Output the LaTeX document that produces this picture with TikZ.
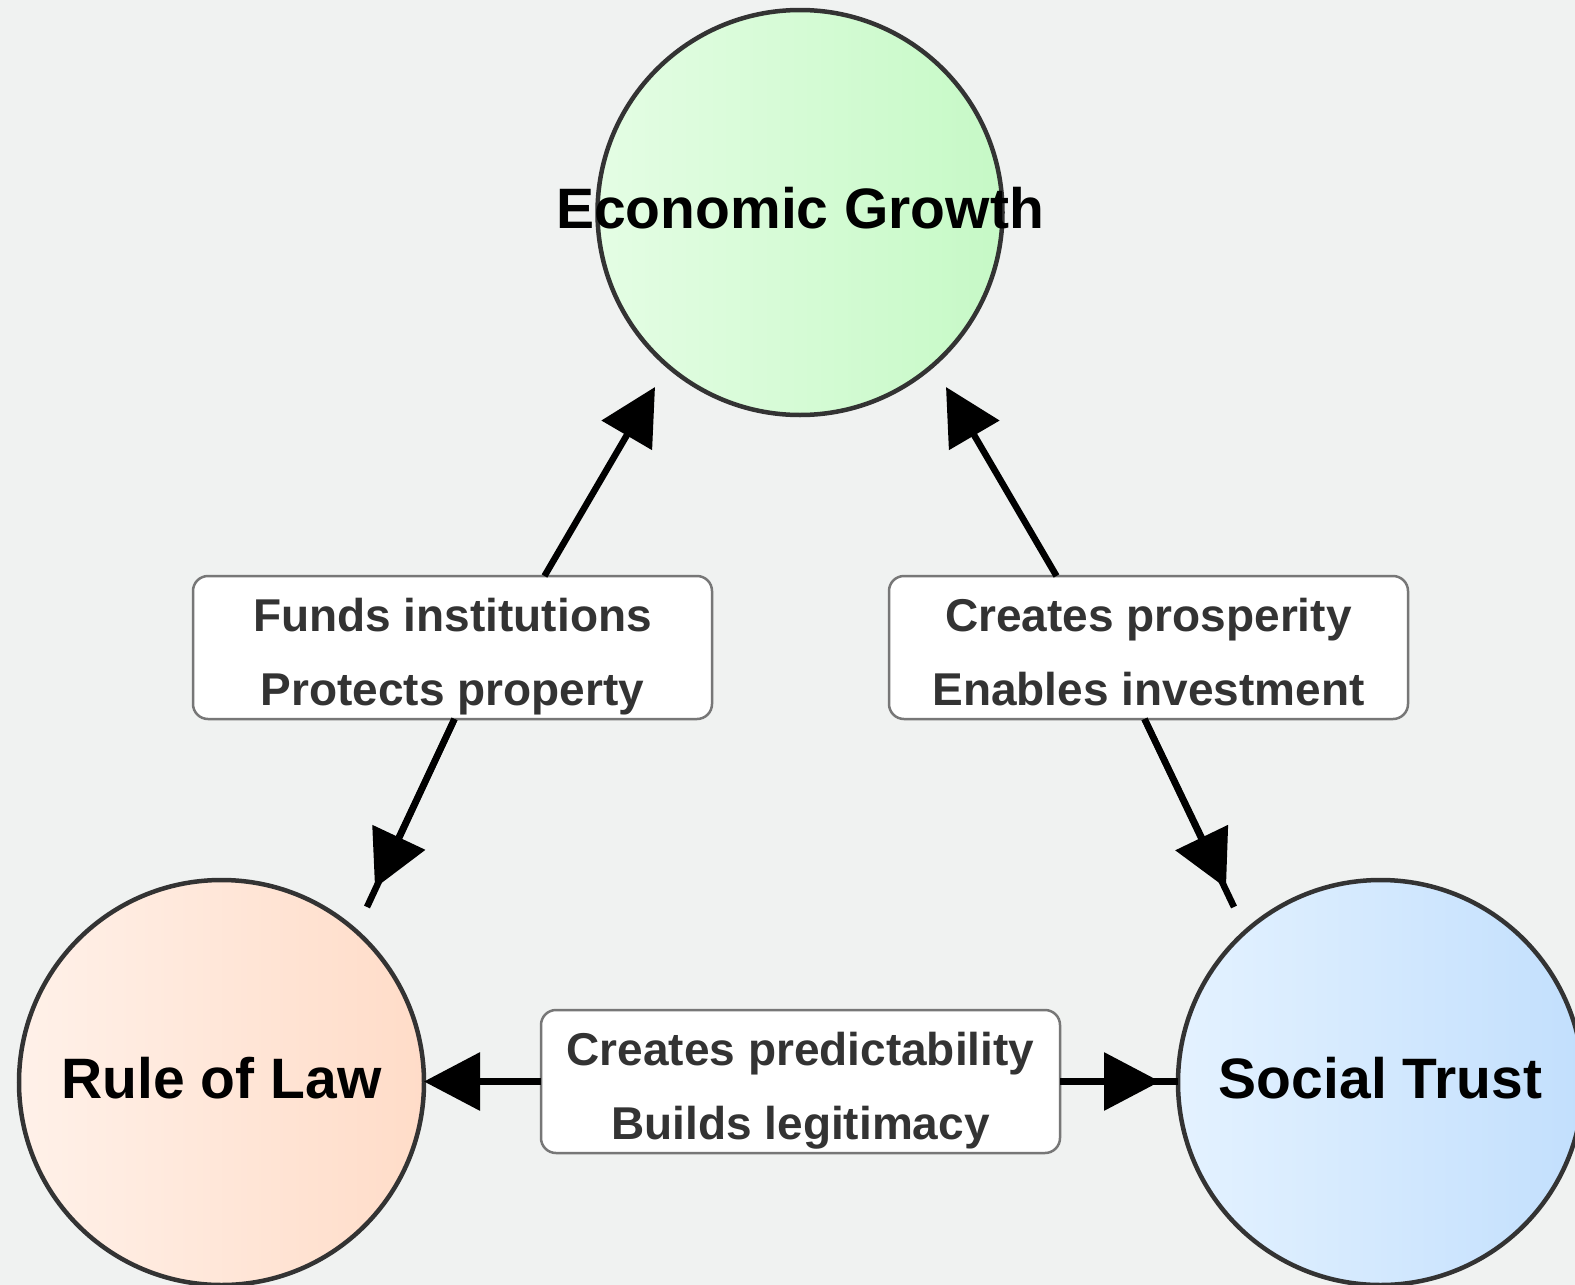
\documentclass[tikz,border=0pt]{standalone}
\usepackage{fontspec}
\setmainfont{Liberation Sans}
\usetikzlibrary{arrows.meta,calc}

\definecolor{canvas}{RGB}{240,242,241}
\definecolor{ringgray}{RGB}{51,51,51}
\definecolor{boxgray}{RGB}{119,119,119}
\definecolor{labelgray}{RGB}{51,51,51}
\definecolor{greenL}{RGB}{228,253,228}
\definecolor{greenR}{RGB}{198,249,198}
\definecolor{peachL}{RGB}{255,241,233}
\definecolor{peachR}{RGB}{255,220,200}
\definecolor{blueL}{RGB}{228,242,255}
\definecolor{blueR}{RGB}{194,223,253}

% centred circle title that does not widen the circle
\newcommand{\hubtitle}[1]{\makebox[0pt]{\raisebox{4.5pt}[\height][\depth]{#1}}}
% two label lines with equal height and depth in every box
\newcommand{\taglines}[2]{\vphantom{Ag}#1\\\vphantom{Ag}#2}

\begin{document}
\begin{tikzpicture}[x=1pt,y=-1pt,
  hub/.style={circle,draw=ringgray,line width=4.5pt,minimum size=405pt,
    inner sep=0pt,outer sep=0pt,font=\fontsize{57}{60}\selectfont\bfseries},
  tag/.style={rectangle,rounded corners=15pt,draw=boxgray,line width=2.5pt,
    fill=white,minimum width=519pt,minimum height=143pt,inner sep=0pt,outer sep=0pt},
  tagtext/.style={align=center,text=labelgray,inner sep=0pt,
    font=\fontsize{46}{74.5}\selectfont\bfseries},
  link/.style={line width=6.5pt,draw=black},
  arr/.style={link,-{Triangle[length=56pt,width=57pt]}}
]
\useasboundingbox (0,0) rectangle (1575,1285);
\fill[canvas] (0,0) rectangle (1575,1285);
\clip (0,0) rectangle (1575,1285);

% the three factors
\node[hub,left color=greenL,right color=greenR] (econ) at (800,212.5)
  {\hubtitle{Economic Growth}};
\node[hub,left color=peachL,right color=peachR] (law) at (221.5,1082.5)
  {\hubtitle{Rule of Law}};
\node[hub,left color=blueL,right color=blueR] (trust) at (1380.5,1082.5)
  {\hubtitle{Social Trust}};

% relation labels
\node[tag] (lbox) at (452.5,647.5) {};
\node[tagtext] (ltext) at ([yshift=-9pt]lbox.center)
  {\taglines{Funds institutions}{Protects property}};
\node[tag] (rbox) at (1148.5,647.5) {};
\node[tagtext] (rtext) at ([yshift=-9pt]rbox.center)
  {\taglines{Creates prosperity}{Enables investment}};
\node[tag] (bbox) at (800.5,1081.5) {};
\node[tagtext] (btext) at ([yshift=-9pt]bbox.center)
  {\taglines{Creates predictability}{Builds legitimacy}};

% arrow ends near the circles
\coordinate (tipEL) at (655,387);
\coordinate (tipER) at (946,387);
\coordinate (tipLB) at (375,888);
\coordinate (endLB) at (367,907);
\coordinate (tipRB) at (1226,888);
\coordinate (endRB) at (1234,907);
\coordinate (tipBR) at ($(trust.west)+(-18,0)$);

% Rule of Law <-> Economic Growth
\draw[arr] ([xshift=92pt]lbox.north) -- (tipEL);
\draw[link] ([xshift=2pt]lbox.south) -- (endLB);
\draw[arr] ([xshift=2pt]lbox.south) -- (tipLB);

% Social Trust <-> Economic Growth
\draw[arr] ([xshift=-92pt]rbox.north) -- (tipER);
\draw[link] ([xshift=-4pt]rbox.south) -- (endRB);
\draw[arr] ([xshift=-4pt]rbox.south) -- (tipRB);

% Rule of Law <-> Social Trust
\draw[arr] (bbox.west) -- (bbox.west -| law.east);
\draw[link] (bbox.east) -- (bbox.east -| trust.west);
\draw[arr] (bbox.east) -- (bbox.east -| tipBR);
\end{tikzpicture}
\end{document}
